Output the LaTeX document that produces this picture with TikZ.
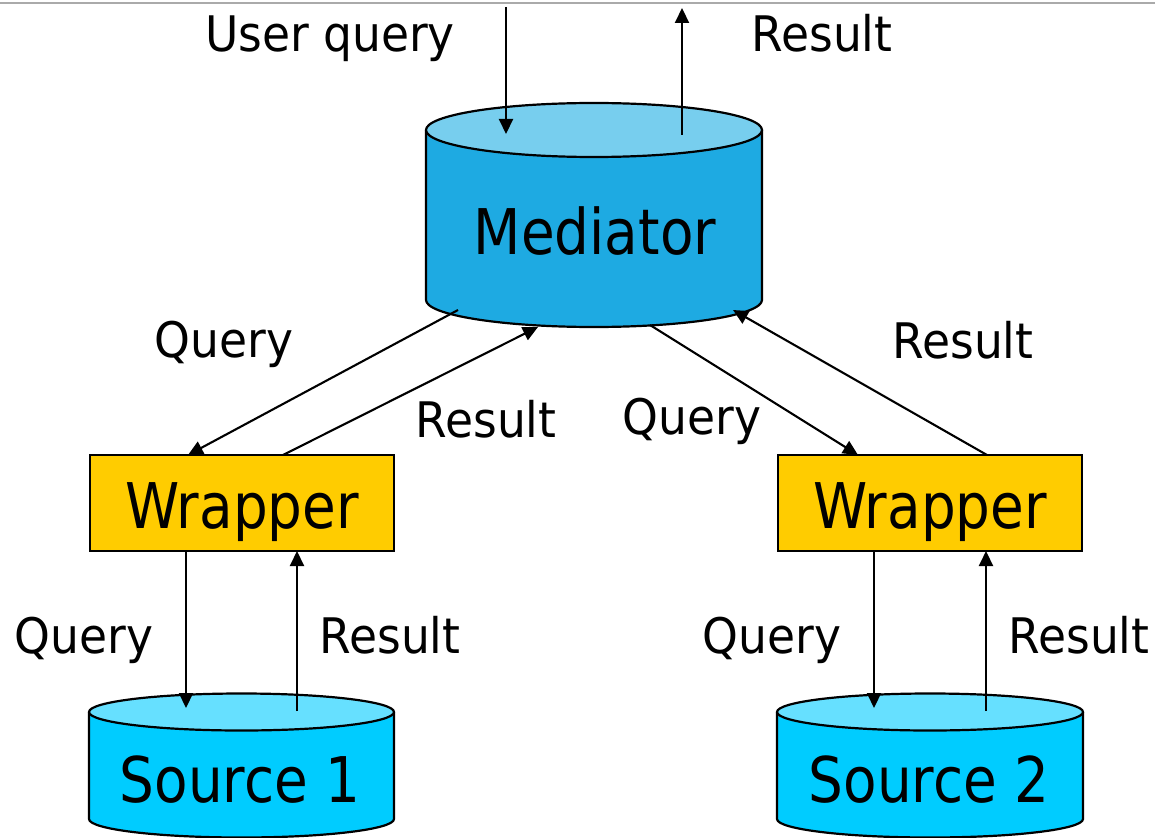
\documentclass[tikz,border=0pt]{standalone}
\usepackage{fontspec}
\usetikzlibrary{arrows.meta}
\newfontfamily\bigfnt[FakeStretch=0.87]{DejaVu Sans}
\newfontfamily\labfnt[FakeStretch=0.93]{DejaVu Sans}
\definecolor{medtop}{RGB}{119,206,238}
\definecolor{medbody}{RGB}{30,170,226}
\definecolor{srctop}{RGB}{102,224,255}
\definecolor{srcbody}{RGB}{0,204,255}
\definecolor{wrapfill}{RGB}{255,204,0}
\definecolor{topline}{RGB}{170,170,170}
\begin{document}
\begin{tikzpicture}[x=1pt,y=-1pt,
  arr/.style={-{Triangle[length=15pt,width=14pt]}, line width=2.1pt},
  outl/.style={draw=black, line width=2.2pt},
  bigtxt/.style={font=\bigfnt\fontsize{63}{63}\selectfont, anchor=base, inner sep=0pt},
  labtxt/.style={font=\labfnt\fontsize{49}{49}\selectfont, anchor=base, inner sep=0pt},
  wrapbox/.style={outl, fill=wrapfill, minimum width=304pt, minimum height=96pt,
     inner sep=0pt, text height=50pt, text depth=0pt, font=\bigfnt\fontsize{63}{63}\selectfont}]
\useasboundingbox (0,0) rectangle (1155,837);
\fill[white] (0,0) rectangle (1155,837);
% top rule
\draw[topline, line width=2pt] (0,3) -- (1155,3);

% ---------- Mediator cylinder ----------
\fill[medbody] (426,130) rectangle (762,300);
\fill[medbody] (594,300) ellipse[x radius=168, y radius=27];
\draw[outl] (426,130) -- (426,300) arc[start angle=180, end angle=0, x radius=168, y radius=27] -- (762,130);
\draw[outl, fill=medtop] (594,130) ellipse[x radius=168, y radius=27];
\node[bigtxt] (med) at (595,254) {Mediator};

% ---------- Source cylinders ----------
\fill[srcbody] (89,712) rectangle (394,819);
\fill[srcbody] (241.5,819) ellipse[x radius=152.5, y radius=18.5];
\draw[outl] (89,712) -- (89,819) arc[start angle=180, end angle=0, x radius=152.5, y radius=18.5] -- (394,712);
\draw[outl, fill=srctop] (241.5,712) ellipse[x radius=152.5, y radius=18.5];
\node[bigtxt] (s1) at (240,802) {Source 1};

\fill[srcbody] (777,712) rectangle (1083,819);
\fill[srcbody] (930,819) ellipse[x radius=153, y radius=18.5];
\draw[outl] (777,712) -- (777,819) arc[start angle=180, end angle=0, x radius=153, y radius=18.5] -- (1083,712);
\draw[outl, fill=srctop] (930,712) ellipse[x radius=153, y radius=18.5];
\node[bigtxt] (s2) at (929,802) {Source 2};

% ---------- Wrappers ----------
\node[wrapbox] (w1) at (242,503) {Wrapper};
\node[wrapbox] (w2) at (930,503) {Wrapper};

% ---------- connector end points ----------
\coordinate (uqin) at (506,7);
\coordinate (medq) at (506,134);
\coordinate (medr) at (682,135);
\coordinate (resout) at (682,8);
\coordinate (mq1) at (458,310);
\coordinate (w1q) at (188,455);
\coordinate (w1r) at (283,455);
\coordinate (mr1) at (538,327);
\coordinate (mq2) at (650,325);
\coordinate (w2q) at (858,455);
\coordinate (w2r) at (987,455);
\coordinate (mr2) at (733,310);
\coordinate (w1qb) at (186,551);
\coordinate (s1q) at (186,708);
\coordinate (s1r) at (297,711);
\coordinate (w1rb) at (297,551);
\coordinate (w2qb) at (874,551);
\coordinate (s2q) at (874,708);
\coordinate (s2r) at (986,711);
\coordinate (w2rb) at (986,551);

% ---------- connectors ----------
\draw[arr] (uqin) -- (medq);
\draw[arr] (medr) -- (resout);
\draw[arr] (mq1) -- (w1q);
\draw[arr] (w1r) -- (mr1);
\draw[arr] (mq2) -- (w2q);
\draw[arr] (w2r) -- (mr2);
\draw[arr] (w1qb) -- (s1q);
\draw[arr] (s1r) -- (w1rb);
\draw[arr] (w2qb) -- (s2q);
\draw[arr] (s2r) -- (w2rb);

% ---------- labels ----------
\node[labtxt] (luq) at (330,52) {User query};
\node[labtxt] (lres) at (822,52) {Result};
\node[labtxt] (lq1) at (224,357) {Query};
\node[labtxt] (lr1) at (486,437) {Result};
\node[labtxt] (lq2) at (692,434) {Query};
\node[labtxt] (lr2) at (963,358) {Result};
\node[labtxt] (lq3) at (84,653) {Query};
\node[labtxt] (lr3) at (390,653) {Result};
\node[labtxt] (lq4) at (772,653) {Query};
\node[labtxt] (lr4) at (1079,653) {Result};
\end{tikzpicture}
\end{document}
